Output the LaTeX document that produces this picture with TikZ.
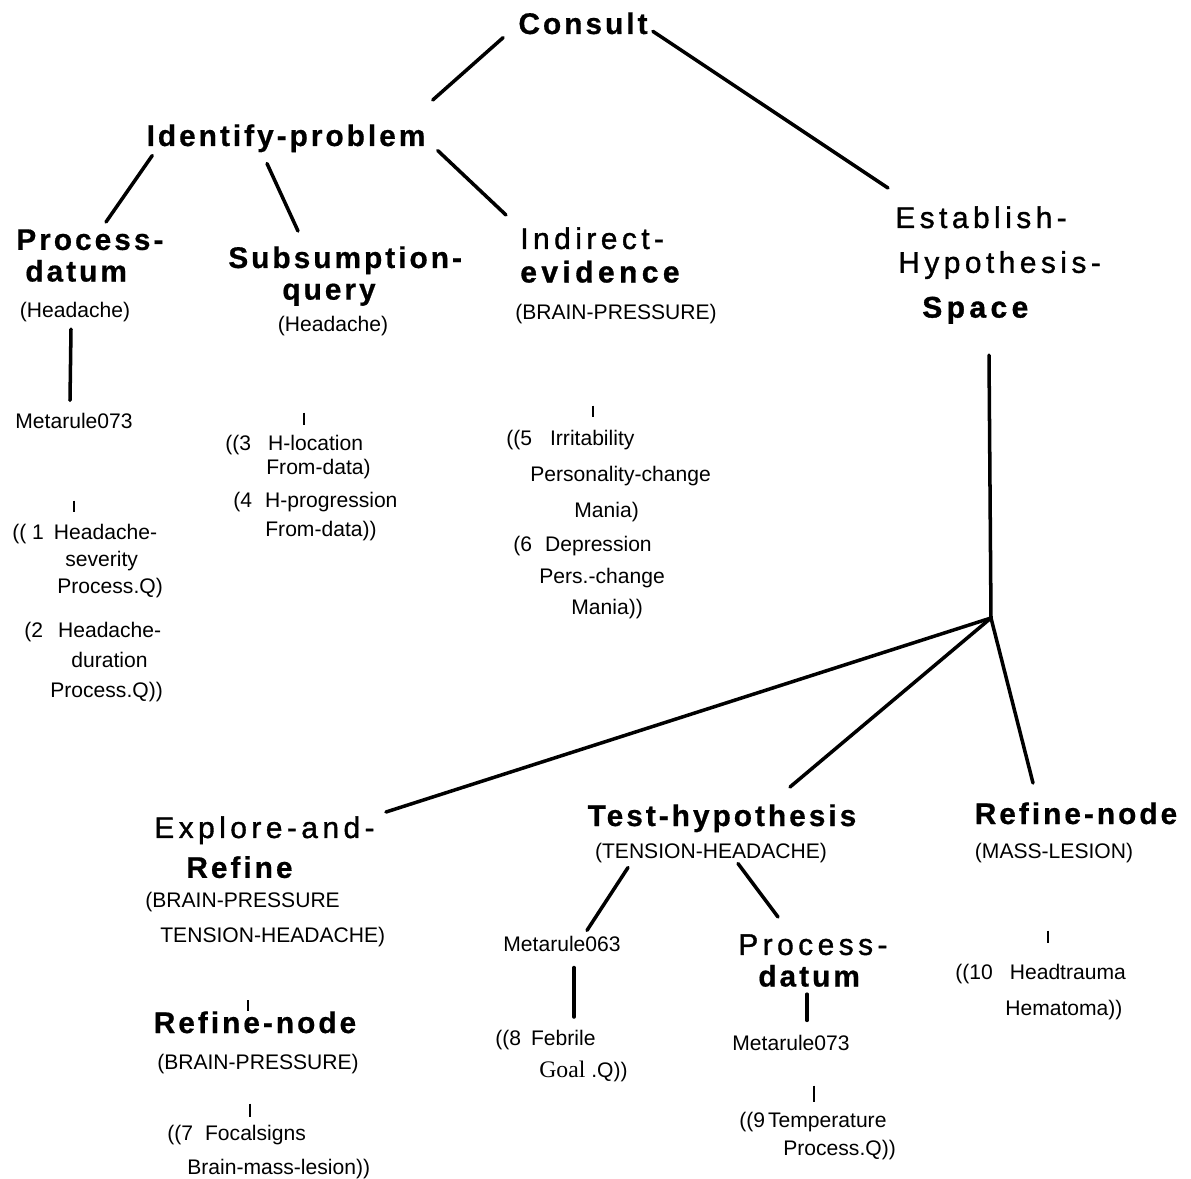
\documentclass[tikz,border=0pt]{standalone}
\usepackage{fontspec}
\setmainfont{Liberation Sans}
\newfontfamily\spacedfont[LetterSpace=10, FakeBold=0.6]{Liberation Sans}
\newfontfamily\widefont[LetterSpace=15, FakeBold=1.2]{Liberation Sans}
\newfontfamily\serifont{Liberation Serif}
\usepackage{tikz}
\usetikzlibrary{calc}

\newlength\pxu
\setlength\pxu{0.02cm}
\newcommand\ind[1]{\hspace*{#1\pxu}}
\newcommand\tb{\spacedfont\bfseries}

\tikzset{
    title/.style={font=\spacedfont\bfseries\fontsize{17}{18}\selectfont, inner sep=0pt, anchor=base},
    head/.style={font=\widefont\fontsize{17}{#1}\selectfont, inner sep=0pt, align=left, anchor=north west},
    arg/.style={font=\fontsize{12}{14}\selectfont, inner sep=0pt, anchor=base},
    item/.style={font=\fontsize{12}{#1}\selectfont, inner sep=0pt, align=left, anchor=north west},
    link/.style={line width=2pt, line cap=round},
    tick/.style={line width=0.8pt},
}

\begin{document}
\begin{tikzpicture}[x=0.02cm, y=-0.02cm]
    \useasboundingbox (0, 0) rectangle (1191, 1179);
    % top level
    \node [title] (consult) at (583, 34) {Consult};
    \node [title] (identify) at (286, 146) {Identify-problem};
    \node [head=25.5] (establish) at (895, 206) {Establish-\\\ind{3}Hypothesis-\\\ind{27}{\bfseries Space}};

    % Identify-problem branch
    \node [title, align=left, anchor=north west] (pdatum) at (16, 229) {Process-\\\ind{9}datum};
    \node [arg] (pdarg) at (75, 318) {(Headache)};
    \node [arg] (mrule) at (74, 429) {Metarule073};
    \node [item=15.3] (item1) at (12, 524) {(( 1\ind{10}Headache-\\\ind{53}severity\\\ind{45}Process.Q)};
    \node [item=17] (item2) at (24, 622) {(2\ind{15}Headache-\\\ind{47}duration\\\ind{26}Process.Q))};

    \node [title, align=left, anchor=north west] (subsum) at (228, 246) {Subsumption-\\\ind{54}query};
    \node [arg] (subarg) at (333, 332) {(Headache)};
    \node [item=13.6] (item3) at (225, 435) {((3\ind{17}H-location\\\ind{41}From-data)};
    \node [item=16.4] (item4) at (233, 492) {(4\ind{13}H-progression\\\ind{32}From-data))};

    \node [head=19] (indirect) at (520, 227) {Indirect-\\{\bfseries evidence}};
    \node [arg] (indarg) at (616, 320) {(BRAIN-PRESSURE)};
    \node [item=20.4] (item5) at (506, 430) {((5\ind{18}Irritability\\\ind{24}Personality-change\\\ind{68}Mania)};
    \node [item=17.9] (item6) at (513, 536) {(6\ind{13}Depression\\\ind{26}Pers.-change\\\ind{58}Mania))};

    % Establish-Hypothesis-Space branch
    \coordinate (hub) at (991, 618);
    \node [head=22.7] (explore) at (154, 816) {Explore-and-\\\ind{32}{\tb Refine}};
    \node [item=20] (exparg) at (145, 892) {(BRAIN-PRESSURE\\\ind{15}TENSION-HEADACHE)};
    \node [title] (refleft) at (255, 1033) {Refine-node};
    \node [arg] (refleftarg) at (258, 1069) {(BRAIN-PRESSURE)};
    \node [item=19.3] (item7) at (167, 1125) {((7\ind{12}Focalsigns\\\ind{20}Brain-mass-lesion))};

    \node [title] (testhyp) at (722, 826) {Test-hypothesis};
    \node [arg] (testarg) at (711, 858) {(TENSION-HEADACHE)};
    \node [arg] (mrule63) at (562, 951) {Metarule063};
    \node [item=18] (item8) at (495, 1030) {((8\ind{10}Febrile\\\ind{44}{\serifont\fontsize{13.5}{18}\selectfont Goal} .Q))};
    \node [head=18] (pdatum2) at (738, 934) {Process-\\\ind{20}{\tb datum}};
    \node [arg] (mrule73b) at (791, 1050) {Metarule073};
    \node [item=16] (item9) at (739, 1112) {((9\ind{3}Temperature\\\ind{44}Process.Q))};

    \node [title] (refright) at (1076, 824) {Refine-node};
    \node [arg] (refrarg) at (1054, 858) {(MASS-LESION)};
    \node [item=20.4] (item10) at (955, 964) {((10\ind{17}Headtrauma\\\ind{50}Hematoma))};

    % thick connectors
    \draw [link] ([shift={(-15, 3)}]consult.south west) -- ([shift={(7, -24)}]identify.north east);
    \draw [link] ([shift={(5, 8)}]consult.east) -- ([shift={(-7, -18)}]establish.north west);
    \draw [link] ([shift={(6, 3)}]identify.south west) -- ([shift={(90, -7)}]pdatum.north west);
    \draw [link] ([shift={(-19, 11)}]identify.south) -- ([shift={(70, -15)}]subsum.north west);
    \draw [link] ([shift={(12, -2)}]identify.south east) -- ([shift={(-14, -12)}]indirect.north west);
    \draw [link] ([shift={(55, 47)}]pdatum.south west) -- ([shift={(-4, -13)}]mrule.north);
    \draw [link] ([shift={(94, 31)}]establish.south west) -- (hub);
    \draw [link] (hub) -- ([shift={(232, -4)}]explore.north west);
    \draw [link] (hub) -- ([shift={(68, -17)}]testhyp.north);
    \draw [link] (hub) -- ([shift={(-43, -19)}]refright.north);
    \draw [link] ([shift={(-94, 35)}]testhyp.south) -- ([shift={(25, -5)}]mrule63.north);
    \draw [link] ([shift={(16, 31)}]testhyp.south) -- ([shift={(40, -17)}]pdatum2.north west);
    \draw [link] ([shift={(12, 16)}]mrule63.south) -- ([shift={(79, -13)}]item8.north west);
    \draw [link] ([shift={(69, 7)}]pdatum2.south west) -- ([shift={(16, -14)}]mrule73b.north);

    % thin ticks
    \draw [tick] ([shift={(0, 71)}]mrule.south) -- ([shift={(62, -12)}]item1.north west);
    \draw [tick] ([shift={(-29, 76)}]subarg.south) -- ([shift={(79, -10)}]item3.north west);
    \draw [tick] ([shift={(-23, 81)}]indarg.south) -- ([shift={(87, -13)}]item5.north west);
    \draw [tick] ([shift={(103, 53)}]exparg.south west) -- ([shift={(-7, 0)}]refleft.north);
    \draw [tick, line width=1.2pt] ([shift={(-8, 30)}]refleftarg.south) -- ([shift={(83, -8)}]item7.north west);
    \draw [tick] ([shift={(23, 35)}]mrule73b.south) -- ([shift={(75, -10)}]item9.north west);
    \draw [tick] ([shift={(-6, 68)}]refrarg.south) -- ([shift={(93, -21)}]item10.north west);
\end{tikzpicture}
\end{document}
